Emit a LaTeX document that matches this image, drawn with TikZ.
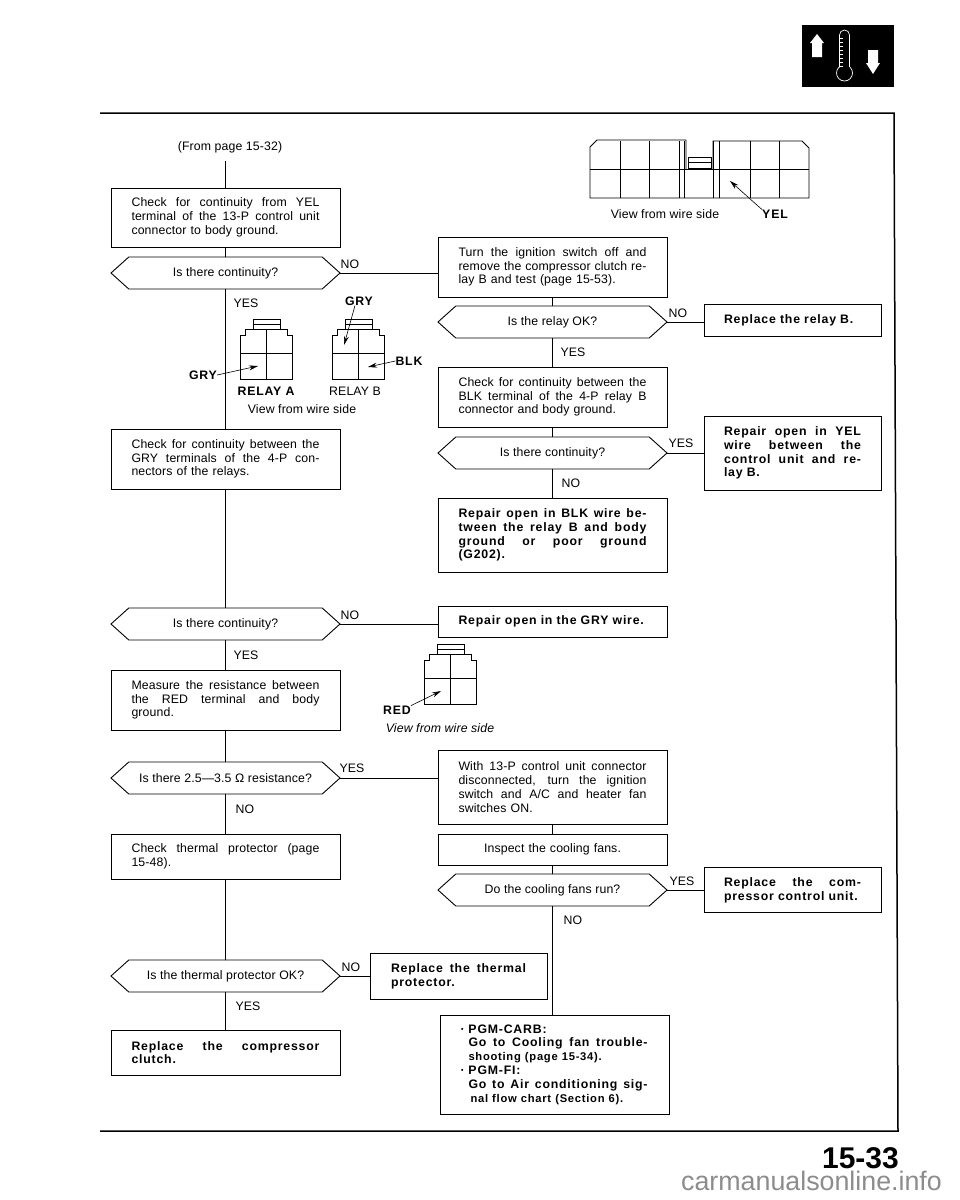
\documentclass[tikz,border=0pt]{standalone}
\usepackage{fontspec}
\setmainfont[LetterSpace=1,BoldFeatures={LetterSpace=6.5}]{Liberation Sans}
\newfontfamily\plainfont{Liberation Sans}
\usepackage{tikz}
\usetikzlibrary{positioning,arrows.meta,shapes.symbols}
\newcommand{\bodyfont}{\fontsize{12.3}{13.8}\selectfont}
\newcommand{\fitline}[2][\hsize]{{\spaceskip=.3em plus 1fil\relax\makebox[#1][s]{#2}}\\}

\begin{document}
\begin{tikzpicture}[
  x=1pt, y=-1pt,
  box/.style={draw, font=\bodyfont, align=left, text width=188pt,
              minimum width=229pt, inner sep=0pt, outer sep=0pt, line width=.9pt},
  sidebox/.style={draw, font=\bodyfont\bfseries, align=left, text width=137pt,
              minimum width=177pt, inner sep=0pt, outer sep=0pt, line width=.9pt},
  ask/.style={draw, signal, signal to=east and west, signal pointer angle=84,
              font=\bodyfont, minimum width=229pt, minimum height=32pt,
              inner sep=0pt, outer sep=0pt, line width=.9pt},
  lab/.style={font=\bodyfont, inner sep=0pt},
  wire/.style={line width=.9pt},
  arr/.style={-{Stealth[length=9pt,width=5pt]}, line width=.6pt},
  relay/.pic={
    \draw[line width=.9pt] (-26,60) -- (-26,16) -- (-21,16) -- (-21,10) -- (-13,10) -- (-13,0)
      -- (14,0) -- (14,10) -- (21,10) -- (21,16) -- (26,16) -- (26,60) -- cycle;
    \draw[line width=.7pt] (-26,34) -- (26,34) (0,10) -- (0,60) (-13,5) -- (14,5) (-13,10) -- (14,10);
  }
]
\useasboundingbox (0,0) rectangle (960,1200);

% page furniture
\draw[line width=1.5pt] (100,113) -- (894,113) -- (898,1131) -- (100,1131);
\fill (802,25) rectangle (894,87);
\fill[white] (817,34) -- (824,43) -- (822,43) -- (822,57) -- (812,57) -- (812,43) -- (810,43) -- cycle;
\fill[white] (873,74) -- (880,63) -- (878,63) -- (878,50) -- (868,50) -- (868,63) -- (866,63) -- cycle;
\draw[white, line width=.7pt] (844.5,73) circle [radius=8];
\fill (840,62) rectangle (849.5,68);
\draw[white, line width=.7pt] (839.5,67) -- (839.5,35) arc (180:360:5) -- (849.5,67);
\foreach \ty in {38,42,...,66} \draw[white, line width=.4pt] (840,\ty) -- (843,\ty);
\node[font=\plainfont\fontsize{30}{30}\selectfont\bfseries, anchor=base east, inner sep=0pt] (pageno) at (899,1168) {15-33};
\node[font=\plainfont\fontsize{26.8}{27}\selectfont, text=black!45, anchor=base, inner sep=0pt] (mark) at (811.5,1190) {carmanualsonline.info};

% left column
\node[lab] (from) at (230,147) {(From page 15-32)};
\node[box] (cont13) at (225.5,217.5) [minimum height=59pt]
  {\fitline{Check for continuity from YEL}\fitline{terminal of the 13-P control unit}connector to body ground.};
\node[ask, below=10pt of cont13] (askA) {Is there continuity?};
\node[box, below=140pt of askA, minimum height=60pt] (contgry)
  {\fitline{Check for continuity between the}\fitline{GRY terminals of the 4-P con-}nectors of the relays.};
\node[ask, below=119pt of contgry] (askB) {Is there continuity?};
\node[box, below=30pt of askB, minimum height=60pt] (measure)
  {\fitline{Measure the resistance between}\fitline{the RED terminal and body}ground.};
\node[ask, below=32pt of measure] (askC) {Is there 2.5—3.5 Ω resistance?};
\node[box, below=40pt of askC, minimum height=45pt] (thermal)
  {\fitline{Check thermal protector (page}15-48).};
\node[ask, below=81pt of thermal] (askD) {Is the thermal protector OK?};
\node[box, below=38pt of askD, minimum height=45pt, font=\bodyfont\bfseries] (clutch)
  {\fitline{Replace the compressor}clutch.};

% right column
\node[box, right=98pt of askA, yshift=6pt, minimum height=60pt] (turn)
  {\fitline{Turn the ignition switch off and}\fitline{remove the compressor clutch re-}lay B and test (page 15-53).};
\node[ask, below=9pt of turn] (askE) {Is the relay OK?};
\node[box, below=29pt of askE, minimum height=60pt] (contblk)
  {\fitline{Check for continuity between the}\fitline{BLK terminal of the 4-P relay B}connector and body ground.};
\node[ask, below=10pt of contblk] (askF) {Is there continuity?};
\node[box, below=29pt of askF, minimum height=74pt, font=\bodyfont\bfseries] (repblk)
  {\fitline{Repair open in BLK wire be-}\fitline{tween the relay B and body}\fitline{ground or poor ground}(G202).};
\node[box, right=98pt of askB, yshift=2.5pt, minimum height=31pt, font=\bodyfont\bfseries] (repgry)
  {Repair open in the GRY wire.};
\node[box, right=98pt of askC, yshift=-9pt, minimum height=74pt] (fansw)
  {\fitline{With 13-P control unit connector}\fitline{disconnected, turn the ignition}\fitline{switch and A/C and heater fan}switches ON.};
\node[box, below=10pt of fansw, minimum height=31pt, align=center] (inspect) {Inspect the cooling fans.};
\node[ask, below=9pt of inspect] (askG) {Do the cooling fans run?};
\node[box, below=109pt of askG, xshift=2pt, minimum height=99pt, font=\bodyfont\bfseries] (pgm)
  {\makebox[8pt][l]{·}PGM-CARB:\\
   \hspace*{8pt}\fitline[179pt]{Go to Cooling fan trouble-}
   \hspace*{8pt}{\fontsize{11.2}{13.6}\selectfont shooting (page 15-34).}\\
   \makebox[8pt][l]{·}PGM-FI:\\
   \hspace*{8pt}\fitline[179pt]{Go to Air conditioning sig-}
   \hspace*{10pt}{\fontsize{11.2}{13.6}\selectfont nal flow chart (Section 6).}};

% side boxes
\node[sidebox, right=37pt of askE, yshift=2pt, minimum height=32pt] (repb) {Replace the relay B.};
\node[sidebox, right=37pt of askF, minimum height=74pt] (repyel)
  {\fitline{Repair open in YEL}\fitline{wire between the}\fitline{control unit and re-}lay B.};
\node[sidebox, right=37pt of askG, minimum height=45pt] (repcom)
  {\fitline{Replace the com-}pressor control unit.};
\node[sidebox, right=30pt of askD, minimum height=46pt, text width=135pt] (repth)
  {\fitline{Replace the thermal}protector.};

% connectors
\draw[wire] (225.5,161) coordinate (start) -- (cont13);
\draw[wire] (cont13) -- (askA);
\draw[wire] (askA) -- (contgry);
\draw[wire] (contgry) -- (askB);
\draw[wire] (askB) -- (measure);
\draw[wire] (measure) -- (askC);
\draw[wire] (askC) -- (thermal);
\draw[wire] (thermal) -- (askD);
\draw[wire] (askD) -- (clutch);
\draw[wire] (askA.east) -- (askA.east -| turn.west);
\draw[wire] (askB.east) -- (askB.east -| repgry.west);
\draw[wire] (askC.east) -- (askC.east -| fansw.west);
\draw[wire] (askD.east) -- (repth);
\draw[wire] (turn) -- (askE);
\draw[wire] (askE) -- (contblk);
\draw[wire] (contblk) -- (askF);
\draw[wire] (askF) -- (repblk);
\draw[wire] (askE.east) -- (askE.east -| repb.west);
\draw[wire] (askF.east) -- (repyel);
\draw[wire] (fansw) -- (inspect);
\draw[wire] (inspect) -- (askG);
\draw[wire] (askG) -- (askG |- pgm.north);
\draw[wire] (askG.east) -- (repcom);

% branch labels
\node[lab] (noA) at (350,264) {NO};
\node[lab] (yesA) at (246,303) {YES};
\node[lab] (noE) at (678,313) {NO};
\node[lab] (yesE) at (573,352) {YES};
\node[lab] (yesF) at (681,443) {YES};
\node[lab] (noF) at (571,483) {NO};
\node[lab] (noB) at (350,615) {NO};
\node[lab] (yesB) at (246,655) {YES};
\node[lab] (yesC) at (352,768) {YES};
\node[lab] (noC) at (245,809) {NO};
\node[lab] (yesG) at (682,881) {YES};
\node[lab] (noG) at (573,920) {NO};
\node[lab] (noD) at (351,967) {NO};
\node[lab] (yesD) at (248,1006) {YES};

% connector views
\draw[line width=.9pt] (686,169) -- (686,140) -- (597,140) -- (590,147) -- (590,198) -- (809,198)
  -- (809,148) -- (802,141) -- (713,141) -- (713,169);
\draw[line width=.7pt] (590,169) -- (809,169);
\foreach \cx in {620,649,679,684,713,719,750,779} \draw[line width=.6pt] (\cx,141) -- (\cx,198);
\draw[line width=.8pt] (688,157) rectangle (711,168) (688,162) -- (711,162);
\node[lab] (viewtop) at (665,214) {View from wire side};
\node[lab, font=\bodyfont\bfseries] (yel) at (775,214) {YEL};
\coordinate (yelend) at (730,181);
\draw[arr] (yel.north west) -- (yelend);

\pic at (266,319) {relay};
\pic at (358,319) {relay};
\pic at (450,644) {relay};
\node[lab, font=\bodyfont\bfseries] (gryA) at (203,375) {GRY};
\node[lab, font=\bodyfont\bfseries] (gryB) at (359,301) {GRY};
\node[lab, font=\bodyfont\bfseries] (blk) at (409,361) {BLK};
\node[lab, font=\bodyfont\bfseries] (relayA) at (266,391) {RELAY A};
\node[lab] (relayB) at (355,391) {RELAY B};
\node[lab] (viewrelay) at (302,409) {View from wire side};
\node[lab, font=\bodyfont\bfseries] (red) at (397,710) {RED};
\node[lab, font=\bodyfont\itshape] (viewred) at (440,728) {View from wire side};
\coordinate (gryAend) at (258,366);
\coordinate (gryBend) at (344,345);
\coordinate (blkend) at (368,367);
\coordinate (redend) at (441,691);
\draw[arr] (gryA.east) -- (gryAend);
\draw[arr] (gryB.south) ++(-4,0) -- (gryBend);
\draw[arr] (blk.west) -- (blkend);
\draw[arr] (red.north east) -- (redend);
\end{tikzpicture}
\end{document}
